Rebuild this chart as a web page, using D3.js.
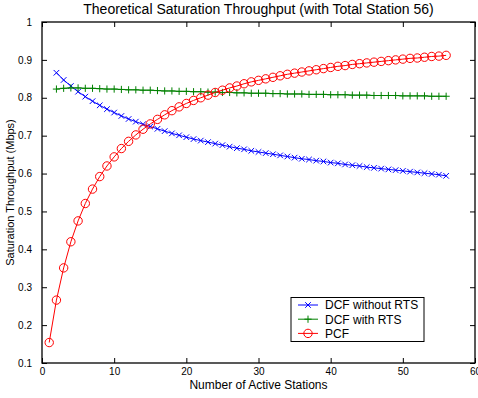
<!DOCTYPE html>
<html>
<head>
<meta charset="utf-8">
<script src="https://cdn.jsdelivr.net/npm/d3@7"></script>
<style>
  body { margin: 0; background: #fff; }
  svg { display: block; font-family: "Liberation Sans", Arial, sans-serif; }
</style>
</head>
<body>
<svg width="478" height="398"></svg>
<script>
// values
const dcfNoRts = [0.866, 0.847, 0.831, 0.816, 0.803, 0.791, 0.780, 0.770, 0.761, 0.752,
  0.744, 0.737, 0.730, 0.724, 0.718, 0.712, 0.706, 0.701, 0.696, 0.691,
  0.687, 0.683, 0.679, 0.675, 0.671, 0.667, 0.664, 0.660, 0.657, 0.654,
  0.651, 0.648, 0.645, 0.642, 0.639, 0.637, 0.634, 0.632, 0.629, 0.627,
  0.624, 0.622, 0.620, 0.617, 0.615, 0.613, 0.611, 0.609, 0.607, 0.605,
  0.603, 0.601, 0.599, 0.597, 0.594]; // n = 2..56

const dcfRts = [0.823, 0.825, 0.826, 0.826, 0.825, 0.825, 0.824, 0.823, 0.823, 0.822,
  0.821, 0.821, 0.820, 0.820, 0.819, 0.818, 0.818, 0.817, 0.817, 0.816,
  0.816, 0.815, 0.815, 0.814, 0.814, 0.813, 0.813, 0.812, 0.812, 0.812,
  0.811, 0.811, 0.810, 0.810, 0.810, 0.809, 0.809, 0.809, 0.808, 0.808,
  0.808, 0.807, 0.807, 0.807, 0.806, 0.806, 0.806, 0.806, 0.805, 0.805,
  0.805, 0.805, 0.804, 0.804, 0.804]; // n = 2..56

const pcf = [0.154, 0.266, 0.351, 0.420, 0.475, 0.521, 0.559, 0.592, 0.620, 0.644,
  0.666, 0.685, 0.702, 0.717, 0.731, 0.743, 0.755, 0.766, 0.776, 0.785,
  0.793, 0.800, 0.807, 0.814, 0.820, 0.826, 0.831, 0.837, 0.842, 0.846,
  0.850, 0.854, 0.858, 0.862, 0.865, 0.868, 0.871, 0.874, 0.877, 0.880,
  0.883, 0.885, 0.888, 0.890, 0.892, 0.894, 0.896, 0.898, 0.900, 0.902,
  0.904, 0.905, 0.907, 0.909, 0.910, 0.912]; // n = 1..56

const xTicks = [0, 10, 20, 30, 40, 50, 60];
const yTicks = [0.1, 0.2, 0.3, 0.4, 0.5, 0.6, 0.7, 0.8, 0.9, 1];

const series = [
  {name: "DCF without RTS", color: "#0000ff", marker: "x", start: 2, values: dcfNoRts},
  {name: "DCF with RTS", color: "#008000", marker: "+", start: 2, values: dcfRts},
  {name: "PCF", color: "#ff0000", marker: "o", start: 1, values: pcf}
];

const svg = d3.select("svg");
const plotL = 42, plotR = 475, plotT = 22, plotB = 363;

const x = d3.scaleLinear().domain([0, 60]).range([plotL, plotR]);
const y = d3.scaleLinear().domain([0.1, 1]).range([plotB, plotT]);

// axes with inward ticks on all four sides
svg.append("g").attr("transform", `translate(0,${plotB})`)
  .call(d3.axisBottom(x).tickValues(xTicks).tickSizeInner(-5).tickSizeOuter(0).tickPadding(5).tickFormat(d3.format("d")));
svg.append("g").attr("transform", `translate(0,${plotT})`)
  .call(d3.axisTop(x).tickValues(xTicks).tickSizeInner(-5).tickSizeOuter(0).tickFormat(""));
svg.append("g").attr("transform", `translate(${plotL},0)`)
  .call(d3.axisLeft(y).tickValues(yTicks).tickSizeInner(-5).tickSizeOuter(0).tickPadding(10).tickFormat(d => d === 1 ? "1" : d3.format(".1f")(d)));
svg.append("g").attr("transform", `translate(${plotR},0)`)
  .call(d3.axisRight(y).tickValues(yTicks).tickSizeInner(-5).tickSizeOuter(0).tickFormat(""));

svg.selectAll(".domain").remove();
svg.selectAll(".tick line").attr("stroke", "#000");
svg.selectAll(".tick text").attr("font-size", 10).attr("fill", "#000")
  .attr("font-family", "'Liberation Sans', Arial, sans-serif");

svg.append("rect")
  .attr("x", plotL).attr("y", plotT)
  .attr("width", plotR - plotL).attr("height", plotB - plotT)
  .attr("fill", "none").attr("stroke", "#000").attr("stroke-width", 1.3);

function drawMarker(g, m, cx, cy, color) {
  if (m === "x") {
    const s = 2.8;
    g.append("path").attr("d", `M${cx - s},${cy - s}L${cx + s},${cy + s}M${cx - s},${cy + s}L${cx + s},${cy - s}`)
      .attr("stroke", color).attr("stroke-width", 1).attr("fill", "none");
  } else if (m === "+") {
    const s = 3.6;
    g.append("path").attr("d", `M${cx - s},${cy}L${cx + s},${cy}M${cx},${cy - s}L${cx},${cy + s}`)
      .attr("stroke", color).attr("stroke-width", 1).attr("fill", "none");
  } else {
    g.append("circle").attr("cx", cx).attr("cy", cy).attr("r", 4.2)
      .attr("stroke", color).attr("stroke-width", 1).attr("fill", "none");
  }
}

const line = d3.line().x(d => x(d.n)).y(d => y(d.v));

series.forEach(s => {
  const pts = s.values.map((v, i) => ({n: s.start + i, v: v}));
  const g = svg.append("g");
  g.append("path").datum(pts).attr("d", line)
    .attr("fill", "none").attr("stroke", s.color).attr("stroke-width", 1);
  pts.forEach(p => drawMarker(g, s.marker, x(p.n), y(p.v), s.color));
});

// legend
const lg = svg.append("g");
lg.append("rect").attr("x", 291).attr("y", 297.5).attr("width", 133).attr("height", 44)
  .attr("fill", "#fff").attr("stroke", "#000").attr("stroke-width", 1);
series.forEach((s, i) => {
  const ly = 305 + i * 14.2;
  lg.append("line").attr("x1", 298).attr("x2", 318).attr("y1", ly).attr("y2", ly)
    .attr("stroke", s.color).attr("stroke-width", 1);
  drawMarker(lg, s.marker, 308, ly, s.color);
  lg.append("text").attr("x", 325).attr("y", ly + 4.3).attr("font-size", 12).text(s.name);
});

// titles
svg.append("text").attr("x", (plotL + plotR) / 2).attr("y", 14).attr("text-anchor", "middle")
  .attr("font-size", 14).text("Theoretical Saturation Throughput (with Total Station 56)");
svg.append("text").attr("x", (plotL + plotR) / 2).attr("y", 389).attr("text-anchor", "middle")
  .attr("font-size", 12).text("Number of Active Stations");
svg.append("text").attr("transform", `translate(14,${(plotT + plotB) / 2}) rotate(-90)`)
  .attr("text-anchor", "middle").attr("font-size", 11).text("Saturation Throughput (Mbps)");
</script>
</body>
</html>
